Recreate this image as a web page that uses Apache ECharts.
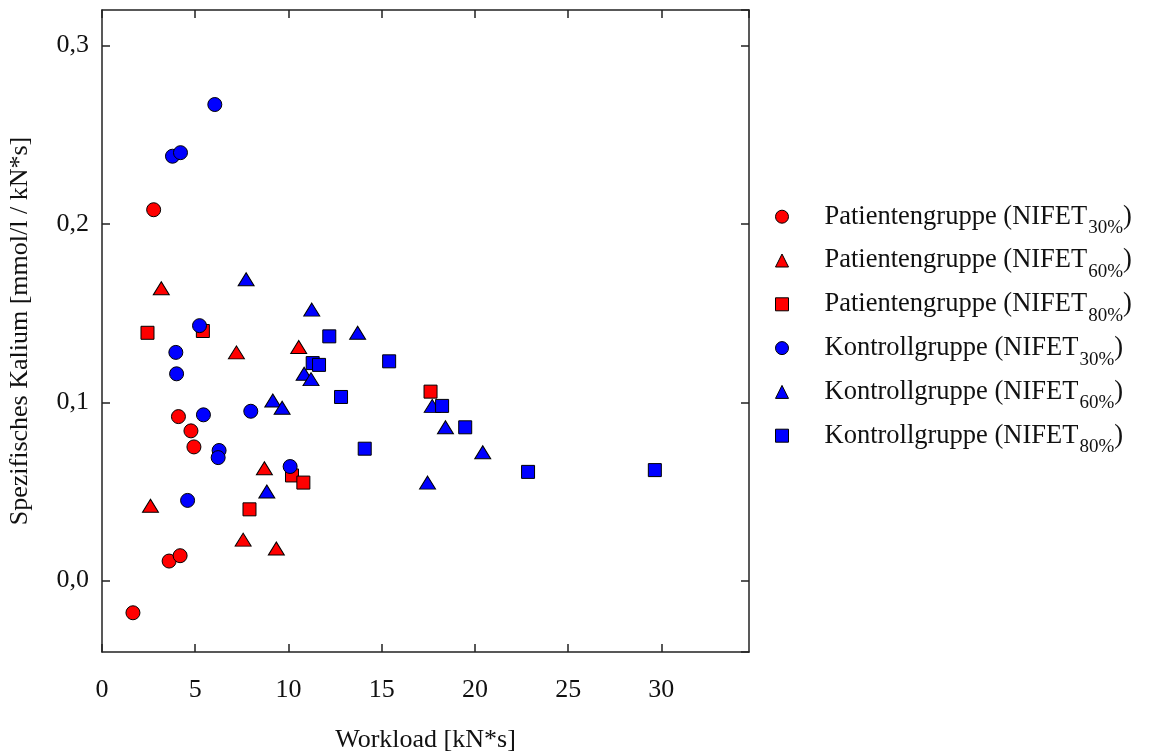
<!DOCTYPE html>
<html>
<head>
<meta charset="utf-8">
<script src="https://cdn.jsdelivr.net/npm/echarts@6/dist/echarts.min.js"></script>
<style>
html,body{margin:0;padding:0;background:#fff;}
#chart{width:1149px;height:752px;}
</style>
</head>
<body>
<div id="chart"></div>
<script>
// ---- data ----
const seriesNames = [
  'Patientengruppe (NIFET|30%',
  'Patientengruppe (NIFET|60%',
  'Patientengruppe (NIFET|80%',
  'Kontrollgruppe (NIFET|30%',
  'Kontrollgruppe (NIFET|60%',
  'Kontrollgruppe (NIFET|80%'
];
const patient30 = [[1.66,-0.018],[2.77,0.208],[3.6,0.011],[4.19,0.014],[4.1,0.092],[4.77,0.084],[4.93,0.075]];
const patient60 = [[3.18,0.164],[7.21,0.128],[10.55,0.131],[8.71,0.063],[2.6,0.042],[7.57,0.023],[9.35,0.018]];
const patient80 = [[2.44,0.139],[5.41,0.140],[10.19,0.059],[10.8,0.055],[7.91,0.040],[17.62,0.106]];
const control30 = [[6.05,0.267],[3.78,0.238],[4.21,0.240],[5.23,0.143],[3.96,0.128],[4.0,0.116],[5.44,0.093],[7.98,0.095],[6.28,0.073],[6.23,0.069],[10.09,0.064],[4.59,0.045]];
const control60 = [[7.73,0.169],[11.25,0.152],[13.71,0.139],[10.84,0.116],[11.21,0.113],[9.16,0.101],[9.66,0.097],[8.84,0.050],[17.71,0.098],[18.42,0.086],[20.42,0.072],[17.46,0.055]];
const control80 = [[12.19,0.137],[11.3,0.122],[11.64,0.121],[12.82,0.103],[14.09,0.074],[15.4,0.123],[18.24,0.098],[19.48,0.086],[22.85,0.061],[29.65,0.062]];
const xTitle = 'Workload [kN*s]';
const yTitle = 'Spezifisches Kalium [mmol/l / kN*s]';

// ---- chart ----
const FONT = "'Liberation Serif','Times New Roman',serif";
const chart = echarts.init(document.getElementById('chart'), null, {renderer:'canvas'});
const axisLineStyle = {color:'#222', width:1.5};
const datasets = [patient30, patient60, patient80, control30, control60, control80];
const symbols = ['circle','triangle','rect','circle','triangle','rect'];
const sizes = [14, [16,13], 13, 14, [16,13], 13];
const colors = ['#ff0000','#ff0000','#ff0000','#0000ff','#0000ff','#0000ff'];

const series = datasets.map((d,i)=>({
  name: seriesNames[i],
  type: 'scatter',
  data: d,
  symbol: symbols[i],
  symbolSize: sizes[i],
  itemStyle: {color: colors[i], borderColor:'#000', borderWidth:1, opacity:1},
  emphasis: {disabled:true},
  z: 2 + i
}));

const yBase = {
  type:'value', min:-0.04, max:0.32, splitNumber:4,
  axisLine:{show:true, onZero:false, lineStyle:axisLineStyle},
  axisTick:{show:true, inside:true, length:8, lineStyle:axisLineStyle},
  splitLine:{show:false}
};
const xBase = {
  type:'value', min:0, max:34.7, interval:5,
  axisLine:{show:true, onZero:false, lineStyle:axisLineStyle},
  axisTick:{show:true, inside:true, length:8, lineStyle:axisLineStyle},
  splitLine:{show:false}
};

chart.setOption({
  animation:false,
  backgroundColor:'#fff',
  textStyle:{fontFamily:FONT},
  grid:{left:102, right:400, top:10, bottom:100, containLabel:false, outerBoundsMode:'none'},
  legend:{
    orient:'vertical', left:770, top:193.7, itemGap:4.8,
    itemWidth:13, itemHeight:13,
    data: seriesNames.map((n,i)=>({name:n, icon: symbols[i]})),
    formatter: function(name){
      const p = name.split('|');
      return '{a|' + p[0] + '}{sub|' + p[1] + '}{a|)}';
    },
    textStyle:{
      fontFamily:FONT, color:'#111',
      rich:{
        a:{fontFamily:FONT, fontSize:26.5, lineHeight:36, color:'#111', verticalAlign:'middle'},
        sub:{fontFamily:FONT, fontSize:19, lineHeight:17, color:'#111', verticalAlign:'top', padding:[20,0,0,1]}
      },
      padding:[0,0,0,31]
    },
    itemStyle:{borderColor:'#000', borderWidth:1},
    selectedMode:false
  },
  xAxis:[
    Object.assign({}, xBase, {
      position:'bottom',
      name:xTitle, nameLocation:'middle', nameGap:75,
      nameTextStyle:{fontFamily:FONT, fontSize:26, color:'#111'},
      axisLabel:{show:true, margin:25, fontFamily:FONT, fontSize:26, color:'#111', showMaxLabel:false}
    }),
    Object.assign({}, xBase, {position:'top', axisLabel:{show:false}})
  ],
  yAxis:[
    Object.assign({}, yBase, {
      position:'left',
      name:yTitle, nameLocation:'middle', nameGap:69, nameRotate:90,
      nameTextStyle:{fontFamily:FONT, fontSize:26, color:'#111'},
      axisLabel:{show:true, margin:13, fontFamily:FONT, fontSize:26, color:'#111',
        showMinLabel:false, showMaxLabel:false,
        formatter:function(v){return v.toFixed(1).replace('.', ',');}}
    }),
    Object.assign({}, yBase, {position:'right', axisLabel:{show:false}})
  ],
  series: series
});
</script>
</body>
</html>
